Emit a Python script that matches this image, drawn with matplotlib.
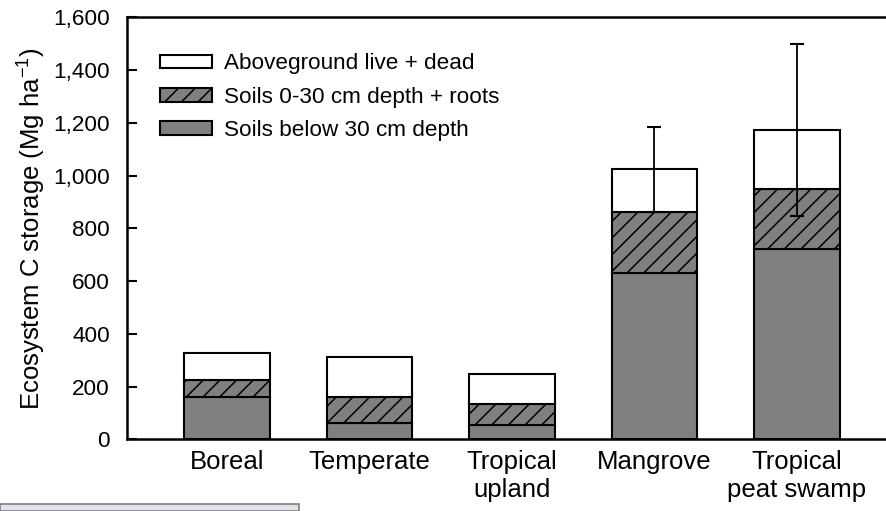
import matplotlib
matplotlib.use("Agg")
import matplotlib.pyplot as plt
from matplotlib.patches import Rectangle
import numpy as np

plt.rcParams['font.family'] = ['Liberation Sans', 'DejaVu Sans']
plt.rcParams['mathtext.fontset'] = 'custom'
plt.rcParams['mathtext.rm'] = 'Liberation Sans'
plt.rcParams['mathtext.it'] = 'Liberation Sans:italic'
plt.rcParams['hatch.linewidth'] = 1.1

categories = ["Boreal", "Temperate", "Tropical\nupland", "Mangrove", "Tropical\npeat swamp"]
soils_below_30 = [160, 60, 54, 630, 720]
soils_0_30_roots = [65, 100, 79, 234, 230]
aboveground = [102, 154, 113, 160, 223]
error = [0, 0, 0, 161, 326]
yticks = [0, 200, 400, 600, 800, 1000, 1200, 1400, 1600]

W, H = 887, 511
fig = plt.figure(figsize=(W / 100, H / 100), dpi=100)
left_px, right_px, top_px, bot_px = 127, 900, 17.5, 439.3
ax = fig.add_axes([left_px / W, (H - bot_px) / H, (right_px - left_px) / W, (bot_px - top_px) / H])

x = np.arange(len(categories))
bw = 0.6
lw = 1.5
b1 = np.array(soils_below_30)
b2 = b1 + np.array(soils_0_30_roots)
tot = b2 + np.array(aboveground)

ax.bar(x, soils_below_30, bw, color='#808080', edgecolor='black', linewidth=lw,
       label='Soils below 30 cm depth', zorder=2)
ax.bar(x, soils_0_30_roots, bw, bottom=b1, color='#808080', edgecolor='black', linewidth=lw,
       hatch='//', label='Soils 0-30 cm depth + roots', zorder=2)
ax.bar(x, aboveground, bw, bottom=b2, color='white', edgecolor='black', linewidth=lw,
       label='Aboveground live + dead', zorder=2)

for i, e in enumerate(error):
    if e > 0:
        ax.errorbar(x[i], tot[i], yerr=e, fmt='none', ecolor='black', elinewidth=1.3,
                    capsize=5, capthick=1.5, zorder=3)

ax.set_ylim(0, 1600)
sp = 142.5
ax.set_xlim(-100 / sp, 4 + (right_px - 797) / sp)
ax.set_yticks(yticks)
ax.set_yticklabels([f"{v:,}" for v in yticks], fontsize=16.2)
ax.set_xticks(x)
ax.set_xticklabels(categories, fontsize=18.5, linespacing=1.2)
ax.tick_params(axis='y', direction='in', length=7, width=1.5, pad=12.3)
ax.tick_params(axis='x', length=0, pad=8)
ax.spines['right'].set_visible(False)
for s in ['left', 'top', 'bottom']:
    ax.spines[s].set_linewidth(1.8)

ax.set_ylabel('Ecosystem C storage (Mg ha$^{\\mathregular{-1}}$)', fontsize=18.5, labelpad=4)

handles, labels = ax.get_legend_handles_labels()
order = [2, 1, 0]
leg = ax.legend([handles[i] for i in order], [labels[i] for i in order],
                loc='upper left', bbox_to_anchor=(0.0427, 0.915), frameon=False,
                fontsize=16.2, handlelength=2.3, handleheight=0.55, handletextpad=0.55,
                labelspacing=0.55, borderpad=0, borderaxespad=0)

fig.patches.append(Rectangle((0, 0), 299 / W, 7 / H, transform=fig.transFigure,
                             facecolor='#e3e0ef', edgecolor='#808080', linewidth=1.2, figure=fig))

fig.savefig('out.png', dpi=100)
